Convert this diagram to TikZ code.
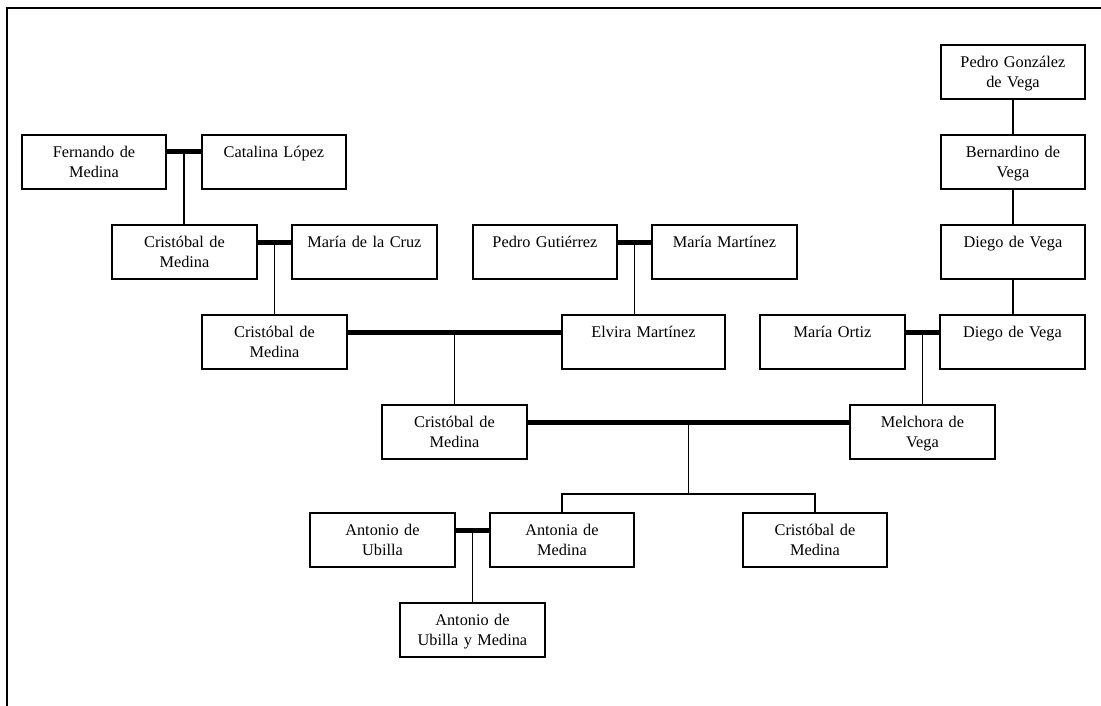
\documentclass[tikz,border=0pt]{standalone}
\usepackage{fontspec}
\setmainfont{Liberation Serif}
\usetikzlibrary{calc}
\begin{document}
\begin{tikzpicture}[x=1pt,y=-1pt,
  person/.style={draw, line width=1.9pt, text width=#1, align=center,
    inner xsep=0pt, inner ysep=0pt, text height=23pt, text depth=31pt,
    anchor=north west, font=\fontsize{16.3}{20}\selectfont},
  person/.default=144pt,
  couple/.style={line width=5pt},
  descent/.style={line width=1.9pt},
  frameline/.style={line width=2.2pt}]
\useasboundingbox (0,0) rectangle (1101,706);
% outer frame (only the top and left edges show)
\draw[frameline] (7,706) -- (7,8) -- (1101,8);

% generation of Fernando de Medina
\node[person] (fer) at (21,134) {Fernando de\\Medina};
\node[person] (cat) at (201,134) {Catalina López};
\node[person=145pt] (cr1) at (111,224) {Cristóbal de\\Medina};
\node[person=145pt] (mcr) at (291,224) {María de la Cruz};
\node[person=145pt] (cr2) at (201,314) {Cristóbal de\\Medina};
% Gutiérrez line
\node[person] (pgu) at (472,224) {Pedro Gutiérrez};
\node[person=145pt] (mma) at (651,224) {María Martínez};
\node[person=163pt] (elv) at (561,314) {Elvira Martínez};
% Vega line
\node[person] (pgv) at (940,44) {Pedro González\\de Vega};
\node[person] (ber) at (940,134) {Bernardino de\\Vega};
\node[person] (die1) at (940,224) {Diego de Vega};
\node[person=145pt] (die2) at (939,314) {Diego de Vega};
\node[person=145pt] (mor) at (759,314) {María Ortiz};
\node[person=145pt] (mel) at (849,404) {Melchora de\\Vega};
% Cristóbal and Melchora
\node[person=145pt] (cr3) at (381,404) {Cristóbal de\\Medina};
% children
\node[person=145pt] (aub) at (309,512) {Antonio de\\Ubilla};
\node[person] (ant) at (489,512) {Antonia de\\Medina};
\node[person] (cr4) at (742,512) {Cristóbal de\\Medina};
\node[person=145pt] (aum) at (399,602) {Antonio de\\Ubilla y Medina};

% marriage points
\coordinate (m1) at ($(fer.north east)!0.5!(cat.north west)+(0,18)$);
\coordinate (m2) at ($(cr1.north east)!0.5!(mcr.north west)+(0,18)$);
\coordinate (m3) at ($(pgu.north east)!0.5!(mma.north west)+(0,18)$);
\coordinate (m4) at ($(cr2.north east)!0.5!(elv.north west)+(0,18)$);
\coordinate (m5) at ($(mor.north east)!0.5!(die2.north west)+(0,18)$);
\coordinate (m6) at ($(cr3.north east)!0.5!(mel.north west)+(0,18)$);
\coordinate (m7) at ($(aub.north east)!0.5!(ant.north west)+(0,18)$);
\coordinate (sib) at ($(m6)+(0,72)$);

% marriage bars
\draw[couple] (fer.north east |- m1) -- (cat.north west |- m1);
\draw[couple] (cr1.north east |- m2) -- (mcr.north west |- m2);
\draw[couple] (pgu.north east |- m3) -- (mma.north west |- m3);
\draw[couple] (cr2.north east |- m4) -- (elv.north west |- m4);
\draw[couple] (mor.north east |- m5) -- (die2.north west |- m5);
\draw[couple] (cr3.north east |- m6) -- (mel.north west |- m6);
\draw[couple] (aub.north east |- m7) -- (ant.north west |- m7);

% lines of descent
\draw[descent] (m1) -- (m1 |- cr1.north);
\draw[descent] (m2) -- (m2 |- cr2.north);
\draw[descent] (m3) -- (m3 |- elv.north);
\draw[descent] (m4) -- (m4 |- cr3.north);
\draw[descent] (m5) -- (m5 |- mel.north);
\draw[descent] (pgv.south) -- (ber.north);
\draw[descent] (ber.south) -- (die1.north);
\draw[descent] (die1.south) -- (die1.south |- die2.north);
\draw[descent] (m6) -- (sib);
\draw[descent] (ant.north) -- (ant.north |- sib) -- (cr4.north |- sib) -- (cr4.north);
\draw[descent] (m7) -- (m7 |- aum.north);
\end{tikzpicture}
\end{document}
